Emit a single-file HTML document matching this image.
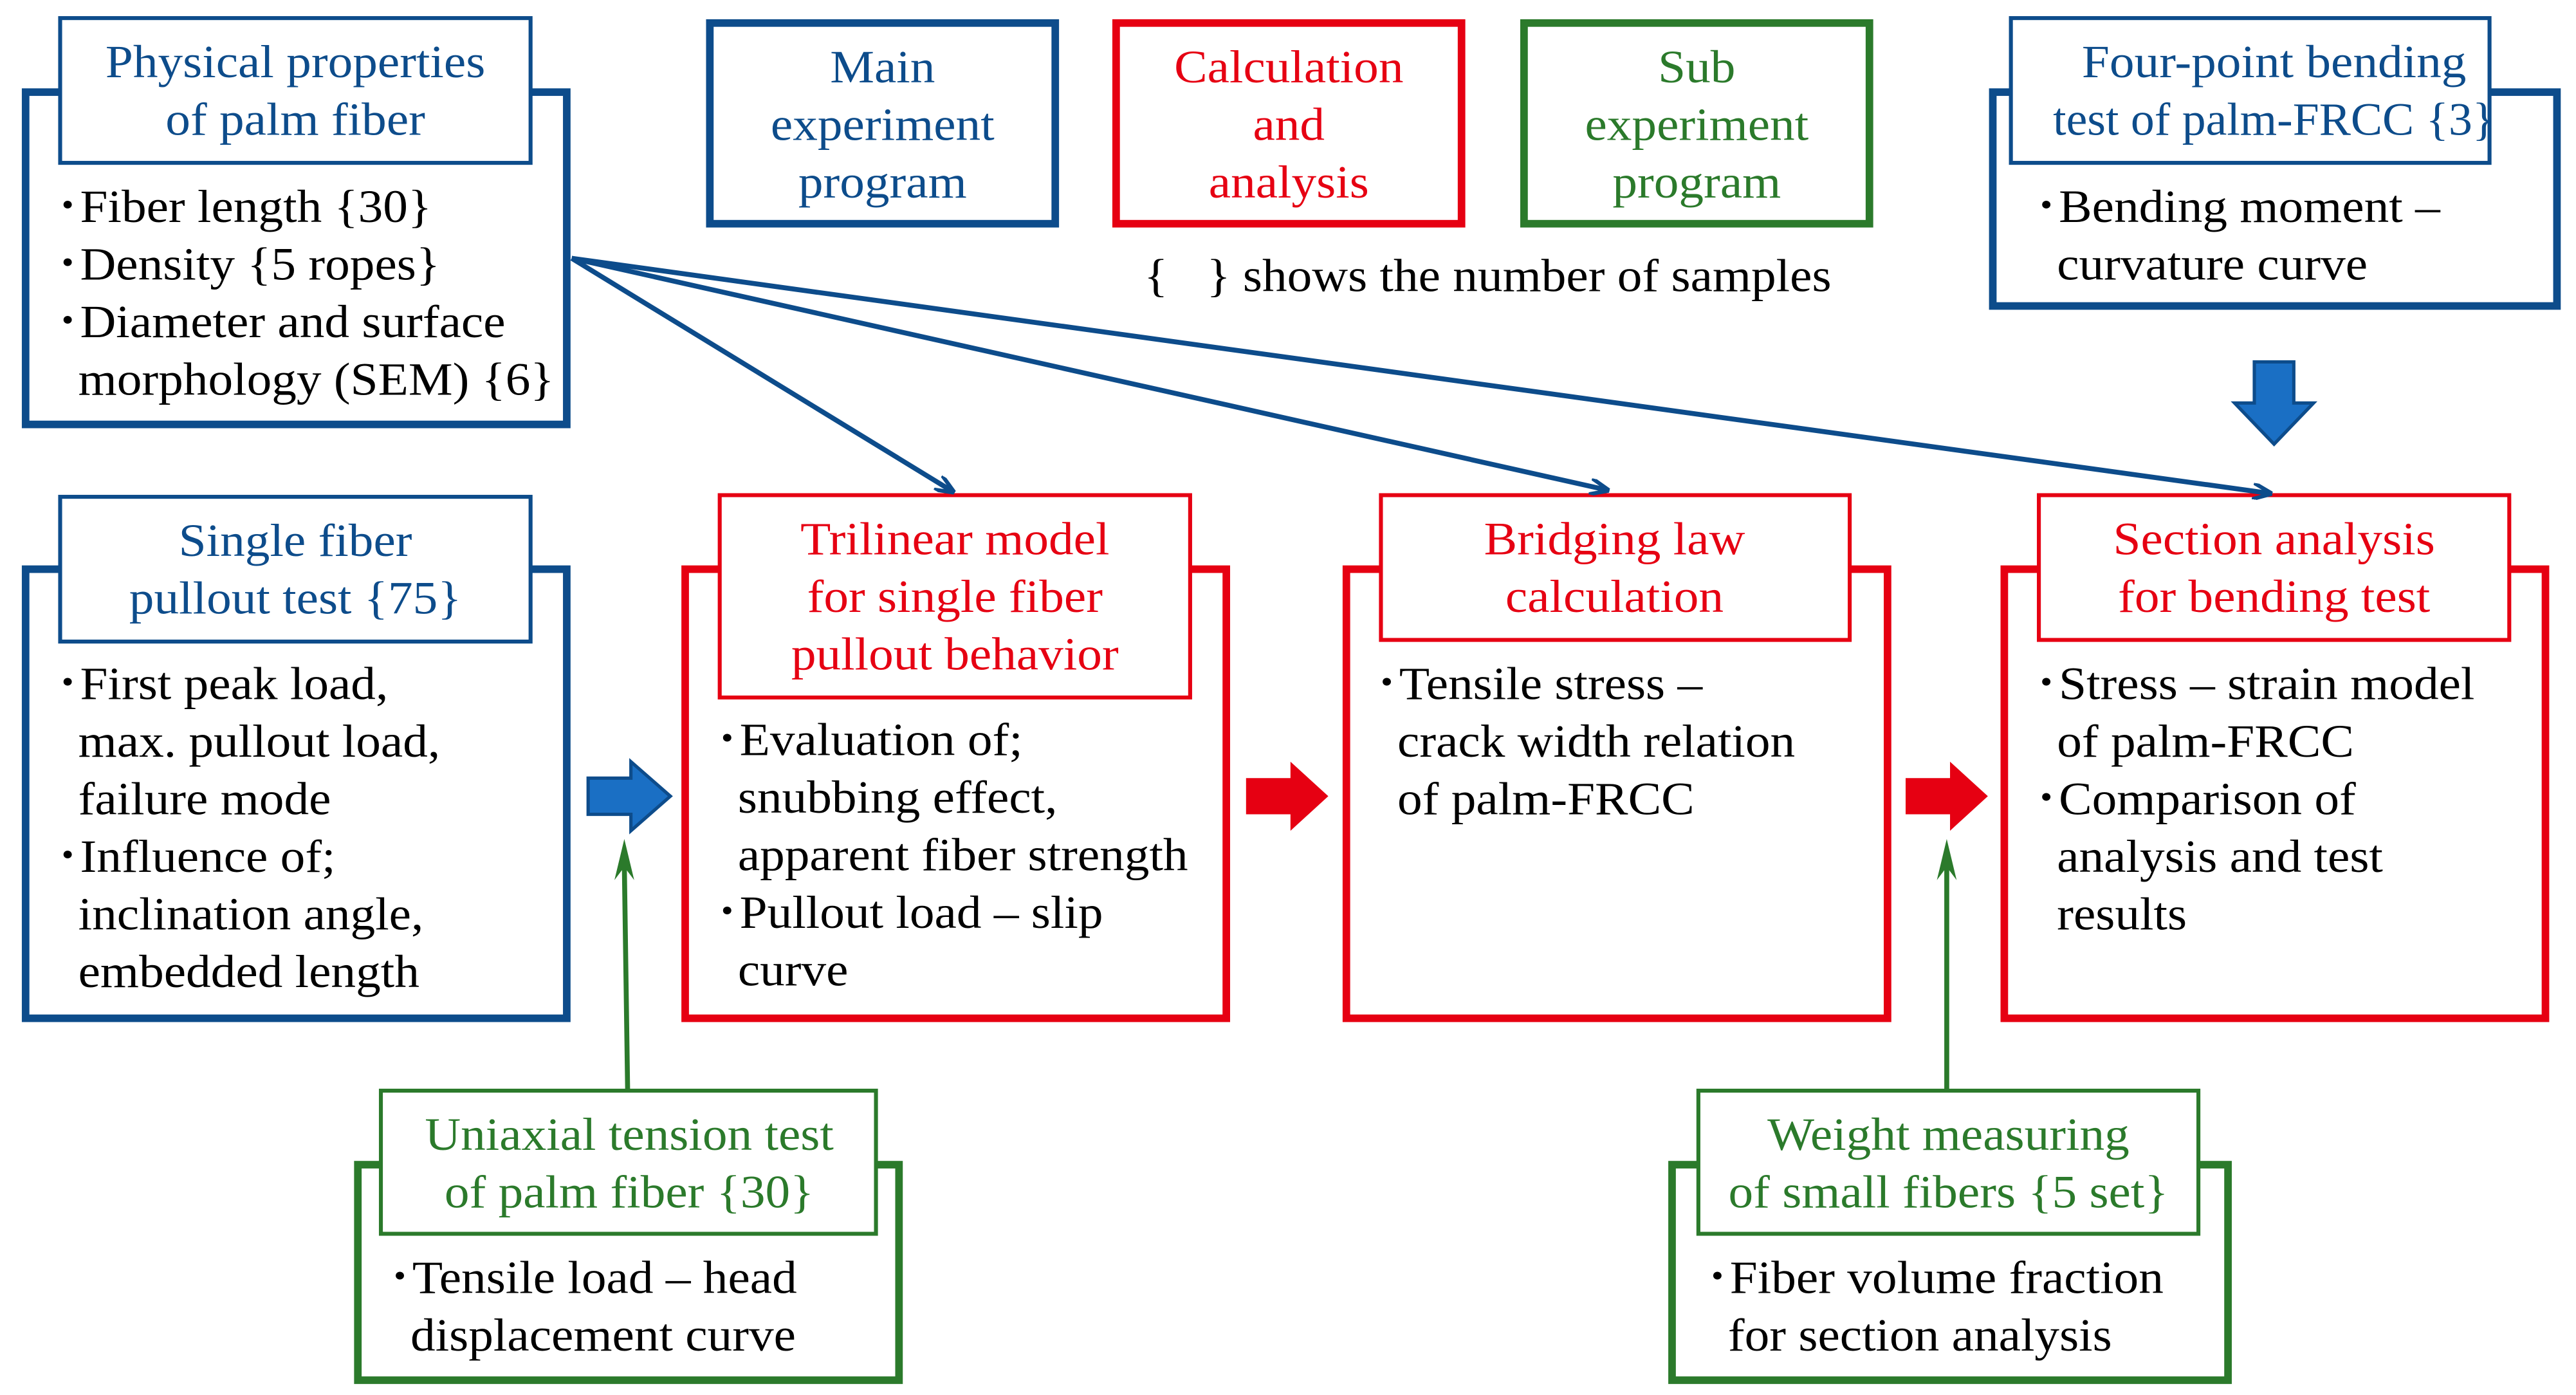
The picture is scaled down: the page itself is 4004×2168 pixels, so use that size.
<!DOCTYPE html>
<html><head><meta charset="utf-8"><style>
html,body{margin:0;padding:0;background:#fff;}
svg{display:block;}
text{font-family:"Liberation Serif",serif;font-size:28px;}
.b{fill:#0d4c8b}.r{fill:#e60012}.g{fill:#2b7a2b}.k{fill:#000}
</style></head><body>
<svg width="4004" height="2168" viewBox="0 0 1565 848" xmlns="http://www.w3.org/2000/svg">
<rect width="1565" height="848" fill="#fff"/>
<defs>
<marker id="ab" markerWidth="12" markerHeight="10" refX="11" refY="5" orient="auto" markerUnits="userSpaceOnUse"><path d="M0,0 L12,5 L0,10" fill="none" stroke="#0d4c8b" stroke-width="2.4"/></marker>
</defs>
<g fill="none">
<rect x="15" y="56" width="329" height="202" stroke="#0d4c8b" stroke-width="4.6"/>
<rect x="15" y="346" width="329" height="273" stroke="#0d4c8b" stroke-width="4.6"/>
<rect x="1211" y="56" width="343" height="130" stroke="#0d4c8b" stroke-width="4.6"/>
<rect x="431" y="14" width="210" height="122" stroke="#0d4c8b" stroke-width="4.6"/>
<rect x="416" y="346" width="329" height="273" stroke="#e60012" stroke-width="4.6"/>
<rect x="818" y="346" width="329" height="273" stroke="#e60012" stroke-width="4.6"/>
<rect x="1218" y="346" width="329" height="273" stroke="#e60012" stroke-width="4.6"/>
<rect x="678" y="14" width="210" height="122" stroke="#e60012" stroke-width="4.6"/>
<rect x="926" y="14" width="210" height="122" stroke="#2b7a2b" stroke-width="4.6"/>
<rect x="217" y="708" width="329" height="131" stroke="#2b7a2b" stroke-width="4.6"/>
<rect x="1016" y="708" width="338" height="131" stroke="#2b7a2b" stroke-width="4.6"/>
</g>
<g fill="#fff" stroke-width="2.4">
<rect x="36" y="11" width="286" height="88" stroke="#0d4c8b"/>
<rect x="1222" y="11" width="291" height="88" stroke="#0d4c8b"/>
<rect x="36" y="302" width="286" height="88" stroke="#0d4c8b"/>
<rect x="437" y="301" width="286" height="123" stroke="#e60012"/>
<rect x="839" y="301" width="285" height="88" stroke="#e60012"/>
<rect x="1239" y="301" width="286" height="88" stroke="#e60012"/>
<rect x="231" y="663" width="301" height="87" stroke="#2b7a2b"/>
<rect x="1032" y="663" width="304" height="87" stroke="#2b7a2b"/>
</g>
<g stroke="#0d4c8b" stroke-width="3" fill="none" marker-end="url(#ab)">
<line x1="347" y1="157" x2="579" y2="299"/>
<line x1="347" y1="157" x2="977" y2="298"/>
<line x1="347" y1="157" x2="1380" y2="300"/>
</g>
<line x1="381" y1="662" x2="379" y2="525" stroke="#2b7a2b" stroke-width="3"/>
<path d="M379,510 L373,535 L379,527 L385,535 Z" fill="#2b7a2b"/>
<line x1="1183" y1="662" x2="1183" y2="525" stroke="#2b7a2b" stroke-width="3"/>
<path d="M1183,510 L1177,535 L1183,527 L1189,535 Z" fill="#2b7a2b"/>
<path d="M357,473 L383,473 L383,463 L407,484 L383,505 L383,495 L357,495 Z" fill="#1a6fc4" stroke="#0d4c8b" stroke-width="2"/>
<path d="M757,473 L784,473 L784,463 L807,484 L784,505 L784,495 L757,495 Z" fill="#e60012"/>
<path d="M1158,473 L1185,473 L1185,463 L1208,484 L1185,505 L1185,495 L1158,495 Z" fill="#e60012"/>
<path d="M1370,220 L1394,220 L1394,245 L1406,245 L1382,270 L1358,245 L1370,245 Z" fill="#1a6fc4" stroke="#0d4c8b" stroke-width="2"/>
<g text-anchor="middle">
<text class="b" transform="translate(179 47) scale(1.08 1)">Physical properties</text>
<text class="b" transform="translate(179 82) scale(1.08 1)">of palm fiber</text>
<text class="b" transform="translate(536 50) scale(1.08 1)">Main</text>
<text class="b" transform="translate(536 85) scale(1.08 1)">experiment</text>
<text class="b" transform="translate(536 120) scale(1.08 1)">program</text>
<text class="r" transform="translate(783 50) scale(1.08 1)">Calculation</text>
<text class="r" transform="translate(783 85) scale(1.08 1)">and</text>
<text class="r" transform="translate(783 120) scale(1.08 1)">analysis</text>
<text class="g" transform="translate(1031 50) scale(1.08 1)">Sub</text>
<text class="g" transform="translate(1031 85) scale(1.08 1)">experiment</text>
<text class="g" transform="translate(1031 120) scale(1.08 1)">program</text>
<text class="b" transform="translate(1382 47) scale(1.08 1)">Four-point bending</text>
<text class="b" transform="translate(1382 82) scale(1.03 1)">test of palm-FRCC {3}</text>
<text class="b" transform="translate(179 338) scale(1.08 1)">Single fiber</text>
<text class="b" transform="translate(179 373) scale(1.08 1)">pullout test {75}</text>
<text class="r" transform="translate(580 337) scale(1.08 1)">Trilinear model</text>
<text class="r" transform="translate(580 372) scale(1.08 1)">for single fiber</text>
<text class="r" transform="translate(580 407) scale(1.08 1)">pullout behavior</text>
<text class="r" transform="translate(981 337) scale(1.08 1)">Bridging law</text>
<text class="r" transform="translate(981 372) scale(1.08 1)">calculation</text>
<text class="r" transform="translate(1382 337) scale(1.08 1)">Section analysis</text>
<text class="r" transform="translate(1382 372) scale(1.08 1)">for bending test</text>
<text class="g" transform="translate(382 699) scale(1.08 1)">Uniaxial tension test</text>
<text class="g" transform="translate(382 734) scale(1.08 1)">of palm fiber {30}</text>
<text class="g" transform="translate(1184 699) scale(1.08 1)">Weight measuring</text>
<text class="g" transform="translate(1184 734) scale(1.08 1)">of small fibers {5 set}</text>
</g>
<g class="k">
<text transform="translate(695 177) scale(1.08 1)">{</text>
<text transform="translate(733 177) scale(1.08 1)">} shows the number of samples</text>
<text transform="translate(33 135) scale(1.08 1)">･Fiber length {30}</text>
<text transform="translate(33 170) scale(1.08 1)">･Density {5 ropes}</text>
<text transform="translate(33 205) scale(1.08 1)">･Diameter and surface</text>
<text transform="translate(47 240) scale(1.08 1)">morphology (SEM) {6}</text>
<text transform="translate(1236 135) scale(1.08 1)">･Bending moment –</text>
<text transform="translate(1250 170) scale(1.08 1)">curvature curve</text>
<text transform="translate(33 425) scale(1.08 1)">･First peak load,</text>
<text transform="translate(47 460) scale(1.08 1)">max. pullout load,</text>
<text transform="translate(47 495) scale(1.08 1)">failure mode</text>
<text transform="translate(33 530) scale(1.08 1)">･Influence of;</text>
<text transform="translate(47 565) scale(1.08 1)">inclination angle,</text>
<text transform="translate(47 600) scale(1.08 1)">embedded length</text>
<text transform="translate(434 459) scale(1.08 1)">･Evaluation of;</text>
<text transform="translate(448 494) scale(1.08 1)">snubbing effect,</text>
<text transform="translate(448 529) scale(1.08 1)">apparent fiber strength</text>
<text transform="translate(434 564) scale(1.08 1)">･Pullout load – slip</text>
<text transform="translate(448 599) scale(1.08 1)">curve</text>
<text transform="translate(835 425) scale(1.08 1)">･Tensile stress –</text>
<text transform="translate(849 460) scale(1.08 1)">crack width relation</text>
<text transform="translate(849 495) scale(1.08 1)">of palm-FRCC</text>
<text transform="translate(1236 425) scale(1.08 1)">･Stress – strain model</text>
<text transform="translate(1250 460) scale(1.08 1)">of palm-FRCC</text>
<text transform="translate(1236 495) scale(1.08 1)">･Comparison of</text>
<text transform="translate(1250 530) scale(1.08 1)">analysis and test</text>
<text transform="translate(1250 565) scale(1.08 1)">results</text>
<text transform="translate(235 786) scale(1.08 1)">･Tensile load – head</text>
<text transform="translate(249 821) scale(1.08 1)">displacement curve</text>
<text transform="translate(1036 786) scale(1.08 1)">･Fiber volume fraction</text>
<text transform="translate(1050 821) scale(1.08 1)">for section analysis</text>
</g>
</svg>
</body></html>
